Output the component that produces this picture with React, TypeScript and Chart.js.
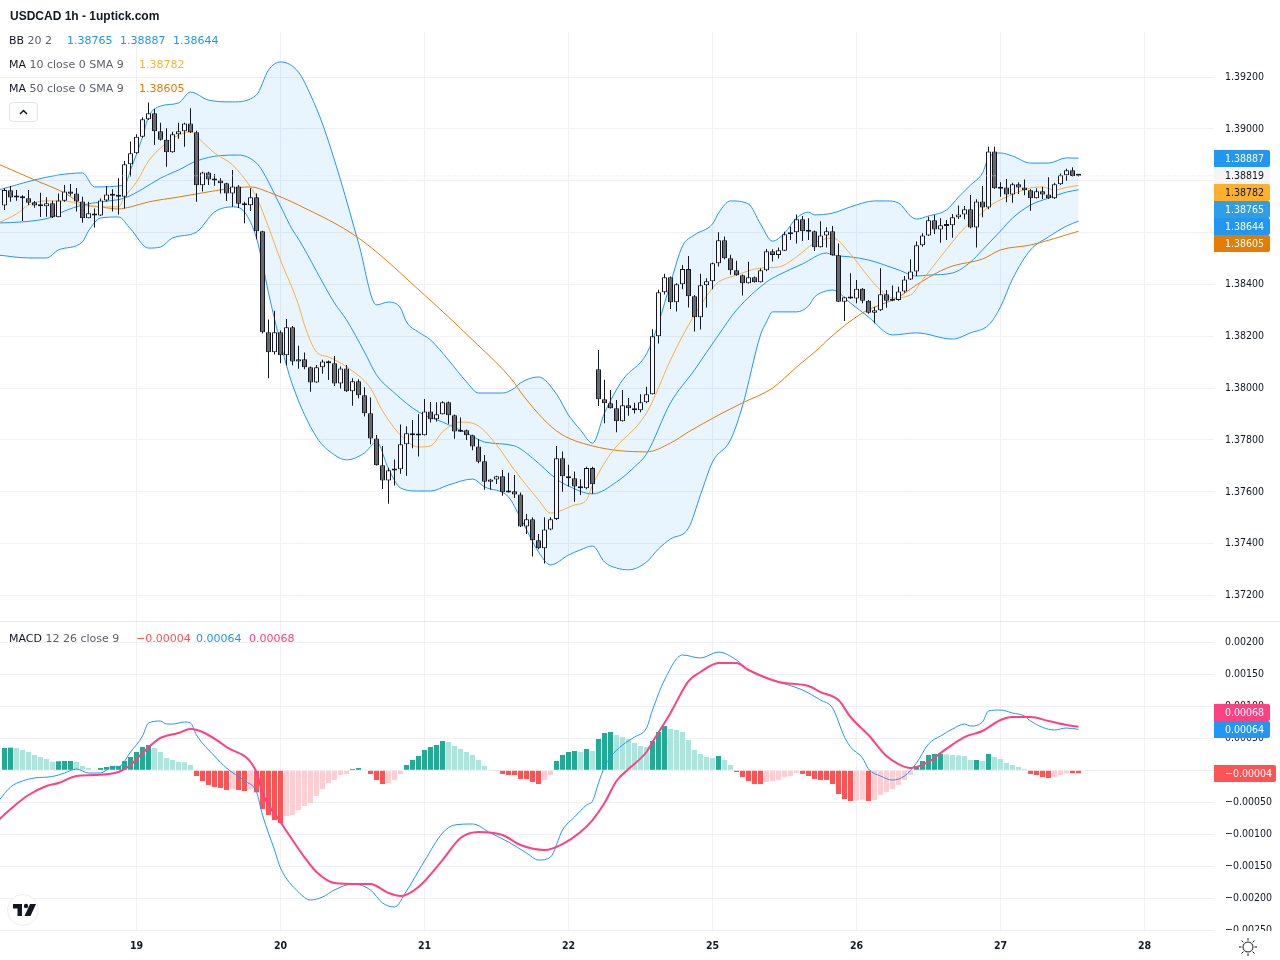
import React, { useEffect, useRef } from "react";
import { Chart, registerables } from "chart.js";

Chart.register(...registerables);

const openValues = [1.38704,1.38763,1.38741,1.38740,1.38732,1.38717,1.38706,1.38701,1.38713,1.38659,1.38723,1.38758,1.38751,1.38720,1.38655,1.38673,1.38666,1.38724,1.38747,1.38744,1.38738,1.38863,1.38906,1.38970,1.39037,1.39060,1.38991,1.38958,1.38910,1.38979,1.38991,1.39021,1.38987,1.38782,1.38832,1.38807,1.38801,1.38790,1.38751,1.38778,1.38713,1.38705,1.38736,1.38605,1.38215,1.38138,1.38215,1.38127,1.38235,1.38103,1.38111,1.38080,1.38022,1.38080,1.38103,1.38096,1.38018,1.38076,1.37988,1.38026,1.37972,1.37903,1.37806,1.37702,1.37644,1.37687,1.37687,1.37783,1.37826,1.37819,1.37818,1.37910,1.37880,1.37899,1.37945,1.37895,1.37837,1.37837,1.37818,1.37775,1.37718,1.37639,1.37647,1.37660,1.37602,1.37602,1.37590,1.37466,1.37494,1.37413,1.37382,1.37455,1.37495,1.37729,1.37660,1.37652,1.37621,1.37614,1.37692,1.38073,1.37957,1.37942,1.37922,1.37872,1.37934,1.37922,1.37915,1.37945,1.37976,1.38200,1.38370,1.38428,1.38331,1.38401,1.38459,1.38354,1.38273,1.38397,1.38412,1.38482,1.38570,1.38501,1.38455,1.38435,1.38404,1.38428,1.38408,1.38455,1.38528,1.38513,1.38530,1.38593,1.38601,1.38651,1.38606,1.38605,1.38543,1.38589,1.38605,1.38512,1.38333,1.38350,1.38346,1.38383,1.38337,1.38291,1.38300,1.38362,1.38342,1.38340,1.38373,1.38419,1.38450,1.38551,1.38589,1.38647,1.38612,1.38628,1.38628,1.38659,1.38670,1.38690,1.38619,1.38720,1.38697,1.38913,1.38773,1.38774,1.38747,1.38786,1.38774,1.38763,1.38732,1.38759,1.38747,1.38732,1.38786,1.38821,1.38840,1.38821];
const closeValues = [1.38764,1.38735,1.38735,1.38732,1.38715,1.38704,1.38701,1.38713,1.38659,1.38724,1.38758,1.38750,1.38720,1.38655,1.38674,1.38666,1.38724,1.38747,1.38742,1.38738,1.38863,1.38906,1.38970,1.39037,1.39060,1.38991,1.38958,1.38910,1.38979,1.38991,1.39021,1.38987,1.38782,1.38832,1.38805,1.38801,1.38790,1.38751,1.38778,1.38711,1.38705,1.38736,1.38605,1.38215,1.38138,1.38215,1.38127,1.38235,1.38103,1.38111,1.38080,1.38022,1.38080,1.38103,1.38096,1.38018,1.38076,1.37988,1.38026,1.37972,1.37903,1.37806,1.37702,1.37644,1.37683,1.37682,1.37783,1.37826,1.37818,1.37817,1.37910,1.37880,1.37899,1.37945,1.37895,1.37833,1.37832,1.37818,1.37775,1.37716,1.37639,1.37647,1.37660,1.37598,1.37597,1.37590,1.37466,1.37494,1.37413,1.37382,1.37455,1.37494,1.37729,1.37660,1.37652,1.37620,1.37614,1.37692,1.37629,1.37957,1.37942,1.37922,1.37872,1.37934,1.37922,1.37915,1.37945,1.37976,1.38200,1.38370,1.38428,1.38331,1.38401,1.38459,1.38354,1.38273,1.38397,1.38412,1.38482,1.38570,1.38501,1.38455,1.38435,1.38404,1.38428,1.38408,1.38455,1.38528,1.38513,1.38532,1.38593,1.38601,1.38651,1.38605,1.38603,1.38543,1.38589,1.38605,1.38512,1.38333,1.38350,1.38346,1.38383,1.38337,1.38291,1.38300,1.38362,1.38337,1.38337,1.38373,1.38419,1.38450,1.38551,1.38589,1.38647,1.38612,1.38628,1.38625,1.38659,1.38670,1.38690,1.38619,1.38720,1.38697,1.38913,1.38771,1.38769,1.38747,1.38786,1.38774,1.38763,1.38732,1.38759,1.38747,1.38732,1.38786,1.38821,1.38840,1.38818,1.38819];
const highValues = [1.38771,1.38780,1.38764,1.38744,1.38764,1.38722,1.38754,1.38736,1.38723,1.38751,1.38783,1.38787,1.38772,1.38738,1.38719,1.38693,1.38731,1.38780,1.38767,1.38809,1.38876,1.38951,1.38979,1.39045,1.39102,1.39077,1.39024,1.39002,1.38989,1.39024,1.39024,1.39079,1.38993,1.38835,1.38835,1.38826,1.38809,1.38792,1.38841,1.38783,1.38719,1.38771,1.38751,1.38607,1.38265,1.38298,1.38222,1.38267,1.38240,1.38163,1.38137,1.38083,1.38089,1.38109,1.38106,1.38124,1.38083,1.38089,1.38038,1.38034,1.38003,1.37964,1.37819,1.37777,1.37693,1.37725,1.37860,1.37853,1.37877,1.37899,1.37958,1.37946,1.37945,1.37949,1.37948,1.37898,1.37887,1.37840,1.37820,1.37804,1.37742,1.37649,1.37662,1.37684,1.37673,1.37665,1.37597,1.37514,1.37502,1.37437,1.37502,1.37502,1.37777,1.37755,1.37704,1.37678,1.37648,1.37697,1.37697,1.38147,1.38032,1.37993,1.37954,1.37993,1.37962,1.37943,1.37976,1.38005,1.38227,1.38379,1.38441,1.38430,1.38404,1.38475,1.38510,1.38359,1.38441,1.38424,1.38484,1.38601,1.38585,1.38514,1.38491,1.38438,1.38487,1.38430,1.38461,1.38537,1.38536,1.38542,1.38603,1.38623,1.38670,1.38664,1.38655,1.38608,1.38644,1.38620,1.38625,1.38558,1.38352,1.38443,1.38417,1.38386,1.38340,1.38314,1.38462,1.38378,1.38396,1.38391,1.38432,1.38497,1.38565,1.38597,1.38661,1.38668,1.38655,1.38648,1.38672,1.38704,1.38702,1.38745,1.38728,1.38780,1.38931,1.38931,1.38794,1.38807,1.38792,1.38794,1.38805,1.38767,1.38771,1.38777,1.38813,1.38792,1.38828,1.38846,1.38852,1.38822];
const lowValues = [1.38687,1.38719,1.38723,1.38645,1.38706,1.38696,1.38660,1.38661,1.38656,1.38659,1.38719,1.38742,1.38681,1.38638,1.38655,1.38619,1.38664,1.38719,1.38681,1.38670,1.38693,1.38816,1.38903,1.38966,1.39034,1.38938,1.38955,1.38854,1.38908,1.38962,1.38931,1.38984,1.38719,1.38758,1.38783,1.38781,1.38751,1.38722,1.38700,1.38695,1.38636,1.38683,1.38574,1.38211,1.38038,1.38130,1.38096,1.38087,1.38088,1.38075,1.38073,1.37986,1.38021,1.38055,1.38031,1.38008,1.37998,1.37985,1.37932,1.37961,1.37890,1.37783,1.37701,1.37611,1.37554,1.37624,1.37670,1.37662,1.37768,1.37736,1.37817,1.37867,1.37871,1.37898,1.37862,1.37805,1.37831,1.37800,1.37760,1.37710,1.37608,1.37608,1.37630,1.37585,1.37597,1.37576,1.37464,1.37437,1.37350,1.37378,1.37323,1.37452,1.37491,1.37600,1.37620,1.37562,1.37588,1.37610,1.37592,1.37931,1.37864,1.37921,1.37830,1.37871,1.37893,1.37902,1.37907,1.37942,1.37975,1.38172,1.38361,1.38305,1.38295,1.38381,1.38311,1.38218,1.38226,1.38311,1.38381,1.38469,1.38497,1.38437,1.38433,1.38357,1.38403,1.38407,1.38407,1.38451,1.38488,1.38500,1.38529,1.38571,1.38558,1.38567,1.38571,1.38529,1.38542,1.38542,1.38511,1.38332,1.38259,1.38345,1.38327,1.38327,1.38287,1.38250,1.38297,1.38310,1.38335,1.38337,1.38368,1.38417,1.38432,1.38545,1.38587,1.38594,1.38561,1.38571,1.38580,1.38652,1.38651,1.38617,1.38542,1.38659,1.38690,1.38768,1.38738,1.38717,1.38715,1.38749,1.38744,1.38684,1.38731,1.38729,1.38729,1.38729,1.38783,1.38800,1.38816,1.38816];

// [bar, value] readings of each indicator line
const bbUpper = [[-1,1.38764],[5,1.38803],[9,1.38822],[13,1.38830],[15,1.38776],[20,1.38783],[21,1.38841],[23,1.38969],[24,1.39046],[26,1.39088],[29,1.39100],[31,1.39142],[34,1.39111],[38,1.39104],[42,1.39131],[44,1.39227],[46,1.39258],[49,1.39219],[51,1.39131],[53,1.39019],[56,1.38803],[59,1.38560],[62,1.38321],[64,1.38332],[66,1.38309],[67,1.38255],[69,1.38216],[71,1.38186],[74,1.38108],[77,1.38024],[79,1.37981],[83,1.37981],[85,1.38000],[86,1.38020],[89,1.38043],[92,1.37977],[94,1.37896],[96,1.37838],[98,1.37788],[100,1.37904],[103,1.38031],[107,1.38132],[109,1.38251],[111,1.38405],[113,1.38548],[115,1.38591],[118,1.38633],[119,1.38675],[121,1.38722],[124,1.38710],[126,1.38633],[128,1.38567],[130,1.38598],[132,1.38656],[134,1.38679],[135,1.38668],[138,1.38675],[141,1.38699],[145,1.38722],[147,1.38722],[149,1.38714],[151,1.38664],[152,1.38652],[154,1.38664],[157,1.38687],[159,1.38737],[161,1.38783],[163,1.38830],[164,1.38888],[166,1.38907],[168,1.38895],[171,1.38868],[174,1.38868],[177,1.38888],[179,1.38887]];
const bbBasis = [[-1,1.38637],[3,1.38641],[8,1.38660],[10,1.38683],[13,1.38706],[16,1.38718],[20,1.38733],[23,1.38768],[26,1.38810],[29,1.38841],[32,1.38876],[36,1.38897],[39,1.38899],[42,1.38868],[43,1.38837],[46,1.38702],[48,1.38610],[49,1.38575],[55,1.38328],[57,1.38263],[60,1.38139],[62,1.38051],[65,1.37981],[69,1.37908],[73,1.37869],[77,1.37827],[80,1.37792],[85,1.37777],[88,1.37730],[92,1.37649],[94,1.37622],[98,1.37592],[102,1.37638],[105,1.37696],[107,1.37746],[111,1.37943],[115,1.38070],[119,1.38205],[122,1.38301],[127,1.38409],[129,1.38436],[133,1.38479],[137,1.38521],[138,1.38513],[141,1.38506],[144,1.38494],[149,1.38456],[152,1.38432],[154,1.38436],[158,1.38444],[161,1.38486],[163,1.38533],[166,1.38606],[168,1.38656],[171,1.38706],[174,1.38733],[177,1.38756],[179,1.38765]];
const bbLower = [[-1,1.38513],[4,1.38502],[7,1.38502],[9,1.38533],[13,1.38564],[14,1.38606],[16,1.38656],[19,1.38660],[21,1.38614],[24,1.38540],[26,1.38544],[28,1.38579],[32,1.38602],[35,1.38679],[38,1.38699],[40,1.38679],[42,1.38579],[43,1.38479],[44,1.38367],[46,1.38174],[48,1.38012],[52,1.37811],[55,1.37742],[57,1.37723],[60,1.37750],[62,1.37792],[64,1.37688],[66,1.37615],[69,1.37603],[71,1.37603],[74,1.37626],[78,1.37649],[80,1.37619],[84,1.37580],[86,1.37499],[89,1.37368],[91,1.37318],[94,1.37356],[96,1.37376],[98,1.37391],[100,1.37329],[102,1.37306],[104,1.37299],[107,1.37329],[109,1.37380],[111,1.37418],[114,1.37460],[116,1.37588],[118,1.37715],[121,1.37800],[123,1.37931],[126,1.38205],[127,1.38255],[128,1.38294],[132,1.38294],[134,1.38317],[135,1.38351],[136,1.38367],[138,1.38378],[141,1.38328],[144,1.38274],[148,1.38205],[152,1.38213],[158,1.38189],[161,1.38213],[164,1.38243],[166,1.38313],[168,1.38421],[171,1.38533],[174,1.38583],[177,1.38625],[179,1.38644]];
const ma50 = [[-1,1.38864],[5,1.38803],[10,1.38753],[13,1.38710],[16,1.38699],[19,1.38691],[21,1.38699],[24,1.38718],[29,1.38737],[33,1.38753],[37,1.38768],[41,1.38776],[44,1.38756],[49,1.38706],[59,1.38579],[70,1.38359],[78,1.38186],[85,1.38020],[86,1.37985],[92,1.37835],[98,1.37777],[107,1.37754],[111,1.37788],[114,1.37831],[119,1.37896],[123,1.37943],[128,1.38000],[132,1.38081],[136,1.38159],[137,1.38182],[143,1.38290],[149,1.38351],[152,1.38398],[156,1.38452],[158,1.38471],[163,1.38498],[166,1.38533],[171,1.38552],[179,1.38605]];
const ma10 = [[-1,1.38637],[2,1.38672],[4,1.38706],[7,1.38722],[10,1.38722],[13,1.38706],[16,1.38699],[19,1.38699],[20,1.38737],[22,1.38795],[24,1.38876],[26,1.38926],[29,1.38976],[31,1.38988],[33,1.38949],[35,1.38907],[38,1.38861],[41,1.38776],[42,1.38737],[44,1.38621],[46,1.38494],[49,1.38321],[50,1.38243],[52,1.38139],[54,1.38120],[58,1.38066],[61,1.38000],[63,1.37912],[66,1.37819],[69,1.37773],[71,1.37777],[73,1.37831],[76,1.37869],[79,1.37854],[82,1.37781],[85,1.37684],[89,1.37569],[91,1.37518],[95,1.37549],[97,1.37569],[98,1.37626],[101,1.37746],[107,1.37904],[111,1.38108],[114,1.38243],[118,1.38386],[119,1.38409],[122,1.38436],[126,1.38463],[129,1.38467],[132,1.38506],[135,1.38560],[138,1.38579],[141,1.38517],[144,1.38429],[146,1.38378],[148,1.38348],[151,1.38359],[153,1.38417],[156,1.38506],[160,1.38618],[162,1.38656],[164,1.38699],[167,1.38737],[171,1.38772],[173,1.38776],[175,1.38764],[177,1.38774],[179,1.38782]];
const macdLine = [[-1,-0.00048],[1,-0.000261],[3,-0.000167],[5,-0.00012],[8,-0.000097],[10,-0.000042],[12,0.00002],[14,-0.000042],[16,-0.000042],[18,0.000052],[19,0.000052],[21,0.000286],[23,0.000536],[24,0.000739],[26,0.00077],[27,0.000723],[28,0.000723],[30,0.000755],[31,0.000739],[32,0.000552],[35,0.000223],[37,0.000036],[40,-0.000167],[42,-0.000339],[43,-0.000698],[45,-0.001245],[46,-0.001527],[49,-0.001902],[51,-0.002027],[53,-0.00198],[55,-0.00187],[58,-0.001777],[61,-0.00187],[63,-0.002073],[65,-0.002136],[67,-0.001886],[70,-0.001417],[73,-0.00098],[75,-0.000855],[78,-0.000839],[81,-0.00098],[84,-0.00112],[87,-0.001292],[89,-0.001402],[91,-0.001355],[93,-0.000933],[95,-0.00073],[97,-0.000542],[98,-0.00048],[99,-0.000198],[100,0.000052],[101,0.000208],[103,0.000395],[105,0.00052],[107,0.000661],[108,0.000942],[110,0.001411],[113,0.001802],[116,0.001755],[119,0.001848],[122,0.001723],[124,0.001567],[128,0.001411],[133,0.001255],[136,0.001098],[138,0.000973],[140,0.00052],[141,0.000364],[143,0.000192],[144,0.00002],[146,-0.000089],[148,-0.000152],[150,-0.000089],[152,0.000114],[154,0.000411],[156,0.000536],[158,0.000645],[160,0.000723],[161,0.000692],[163,0.000755],[164,0.000927],[166,0.000942],[168,0.000895],[170,0.000848],[171,0.00077],[175,0.00063],[177,0.000661],[179,0.00064]];
const signalLine = [[-1,-0.000777],[2,-0.000527],[4,-0.000386],[7,-0.000245],[9,-0.000198],[12,-0.000089],[15,-0.000073],[19,-0.000027],[21,0.000083],[23,0.00027],[26,0.000505],[29,0.000583],[31,0.000645],[33,0.000598],[37,0.000364],[42,-0.000027],[43,-0.000355],[46,-0.000808],[48,-0.00109],[50,-0.00136],[52,-0.001589],[55,-0.001761],[59,-0.001777],[61,-0.001777],[64,-0.001917],[66,-0.001964],[69,-0.001823],[73,-0.001402],[76,-0.001058],[79,-0.000964],[83,-0.001011],[86,-0.001167],[90,-0.001245],[93,-0.001152],[96,-0.000964],[98,-0.000777],[100,-0.000511],[102,-0.000167],[104,0.00002],[107,0.000286],[108,0.000442],[110,0.000739],[111,0.000895],[114,0.001395],[116,0.001536],[119,0.001677],[122,0.001677],[124,0.001567],[129,0.00138],[134,0.001317],[136,0.001223],[139,0.001098],[141,0.000833],[144,0.000552],[147,0.000223],[149,0.000098],[151,0.000036],[154,0.00013],[156,0.00027],[160,0.00052],[163,0.000614],[166,0.000786],[168,0.000833],[171,0.000833],[174,0.00077],[177,0.000708],[179,0.00068]];
const macdHistogram = [0.000349,0.000354,0.000349,0.000318,0.000286,0.00024,0.000208,0.000177,0.000135,0.000141,0.000146,0.000146,0.00013,0.000068,0.000036,0.000005,0.000036,0.000052,0.000068,0.000068,0.000146,0.000208,0.000286,0.000365,0.000396,0.000349,0.000286,0.000193,0.000161,0.00013,0.000125,0.000083,-0.000089,-0.000167,-0.000229,-0.00026,-0.000276,-0.000307,-0.000292,-0.000307,-0.000323,-0.000292,-0.000344,-0.000604,-0.000698,-0.000777,-0.000823,-0.000713,-0.000698,-0.00062,-0.000557,-0.00051,-0.000401,-0.000292,-0.000198,-0.000151,-0.000073,-0.000057,0.000021,0.000036,0.000005,-0.000057,-0.000151,-0.000214,-0.000198,-0.000151,-0.000057,0.000083,0.000161,0.000224,0.000318,0.000365,0.000396,0.000458,0.000443,0.00038,0.000333,0.000286,0.00024,0.000161,0.000068,0.000005,-0.00001,-0.000057,-0.000073,-0.000073,-0.000135,-0.000135,-0.000182,-0.000214,-0.000151,-0.000073,0.000146,0.00024,0.000286,0.000302,0.000286,0.000333,0.000302,0.00049,0.000583,0.000599,0.000552,0.000521,0.00049,0.000427,0.00038,0.000365,0.000458,0.000599,0.000693,0.000646,0.00063,0.000599,0.000474,0.000318,0.000255,0.000208,0.000193,0.000224,0.000161,0.000083,-0.000026,-0.000104,-0.000167,-0.000214,-0.000214,-0.000182,-0.000167,-0.000151,-0.000104,-0.000089,-0.000042,-0.000057,-0.000089,-0.000135,-0.000151,-0.000151,-0.000214,-0.00037,-0.000448,-0.000479,-0.000469,-0.000458,-0.000479,-0.000464,-0.000385,-0.000339,-0.000292,-0.000229,-0.000151,-0.000073,0.000068,0.000146,0.00024,0.000255,0.00026,0.00025,0.00024,0.000234,0.000224,0.000161,0.000161,0.000146,0.000255,0.000208,0.000177,0.000115,0.000083,0.000052,0.000021,-0.000057,-0.000073,-0.000104,-0.00012,-0.000104,-0.000073,-0.000045,-0.000045,-0.000045];

const lastPrice = 1.38819;
const priceTicks = [1.392,1.39,1.388,1.386,1.384,1.382,1.38,1.378,1.376,1.374,1.372];
const macdTicks = [0.002,0.0015,0.001,0.0005,0,-0.0005,-0.001,-0.0015,-0.002,-0.0025];
const dayBars = [22,46,70,94,118,142,166,190];
const dayLabels = ["19","20","21","22","25","26","27","28"];
const priceTagLabels = ["1.38887","1.38819","1.38782","1.38765","1.38644","1.38605"];
const macdTagLabels = ["0.00068","0.00064","\u22120.00004"];

const BLUE = "#2196F3";
const MA10_COLOR = "#F7B23B";
const MA50_COLOR = "#E37D05";
const PINK = "#FF4081";
const RED = "#FF5252";
const TEAL = "#22AB94";
const TEAL_LIGHT = "#ACE5DC";
const RED_LIGHT = "#FFCDD2";
const INK = "#131722";
const GRID = "#F1F1F3";
const AXIS_FONT = "'DejaVu Sans Condensed', 'DejaVu Sans'";
const AXIS_SIZE = 10.5;
const AXIS_WIDTH = 66;
const xMin = -0.75;
const xMax = 201.583;

const toPoints = (pairs: number[][]) => pairs.map(([x, y]) => ({ x, y }));

const line = (label: string, pairs: number[][], color: string, width: number, order: number, extra: object = {}) => ({
  type: "line" as const,
  label,
  data: toPoints(pairs),
  borderColor: color,
  borderWidth: width,
  pointRadius: 0,
  cubicInterpolationMode: "monotone" as const,
  fill: false,
  order,
  ...extra,
});

const histColor = (v: number, i: number) => {
  const prev = i > 0 ? macdHistogram[i - 1] : v;
  if (v >= 0) return v >= prev ? TEAL : TEAL_LIGHT;
  return v <= prev ? RED : RED_LIGHT;
};

const clearPadding = (s: any) => {
  s.paddingTop = 0;
  s.paddingBottom = 0;
  s.paddingLeft = 0;
  s.paddingRight = 0;
};

const xScale = (showLabels: boolean, height: number) => ({
  type: "linear" as const,
  min: xMin,
  max: xMax,
  offset: false,
  afterBuildTicks: (s: any) => { s.ticks = dayBars.map((value) => ({ value })); },
  afterFit: (s: any) => { s.height = height; clearPadding(s); },
  grid: { color: GRID, drawTicks: false, lineWidth: 1, offset: false },
  border: { display: false },
  ticks: {
    display: showLabels,
    autoSkip: false,
    maxRotation: 0,
    padding: 9,
    color: INK,
    font: { family: AXIS_FONT, size: AXIS_SIZE, weight: "bold" as const },
    callback: (v: any) => dayLabels[dayBars.indexOf(Number(v))] ?? "",
  },
});

const yScale = (min: number, max: number, ticks: number[], fmt: (v: number) => string) => ({
  type: "linear" as const,
  position: "right" as const,
  min,
  max,
  afterBuildTicks: (s: any) => { s.ticks = ticks.map((value) => ({ value })); },
  afterFit: (s: any) => { s.width = AXIS_WIDTH; clearPadding(s); },
  grid: { color: GRID, drawTicks: false, lineWidth: 1 },
  border: { display: false },
  ticks: {
    padding: 11,
    color: INK,
    autoSkip: false,
    font: { family: AXIS_FONT, size: AXIS_SIZE },
    callback: (v: any) => fmt(Number(v)),
  },
});

const drawTag = (ctx: CanvasRenderingContext2D, text: string, top: number, w: number, bg: string, fg: string) => {
  ctx.save();
  ctx.fillStyle = bg;
  ctx.beginPath();
  ctx.roundRect(1214, top, w, 17, [0, 2, 2, 0]);
  ctx.fill();
  ctx.fillStyle = fg;
  ctx.font = `${AXIS_SIZE}px ${AXIS_FONT}`;
  ctx.textAlign = "left";
  ctx.textBaseline = "middle";
  ctx.fillText(text, 1225, top + 9);
  ctx.restore();
};

const priceTagStyles = [
  [BLUE, "#fff"], ["#F5F5F5", INK], ["#FBB12E", INK], ["#2E9FE6", "#fff"], [BLUE, "#fff"], [MA50_COLOR, "#fff"],
];

const priceTagsPlugin = {
  id: "priceTags",
  afterDraw(chart: any) {
    priceTagLabels.forEach((t, k) => {
      drawTag(chart.ctx, t, 150 + k * 17, 56, priceTagStyles[k][0], priceTagStyles[k][1]);
    });
  },
};

const macdTagsPlugin = {
  id: "macdTags",
  afterDraw(chart: any) {
    const ctx = chart.ctx;
    ctx.save();
    ctx.fillStyle = "#fff";
    ctx.fillRect(1214, 310, 66, 29);
    ctx.restore();
    drawTag(ctx, macdTagLabels[0], 83, 56, PINK, "#fff");
    drawTag(ctx, macdTagLabels[1], 100, 56, BLUE, "#fff");
    drawTag(ctx, macdTagLabels[2], 144, 62, RED, "#fff");
  },
};

const base = {
  responsive: false,
  animation: false as const,
  devicePixelRatio: 1,
  events: [] as any[],
  plugins: { legend: { display: false }, tooltip: { enabled: false }, title: { display: false }, filler: { propagate: false } },
};

const barCommon = {
  grouped: false,
  barPercentage: 1,
  categoryPercentage: 1,
  inflateAmount: 0,
};

const legendFont = "'DejaVu Sans', sans-serif";
const textRow = (top: number): React.CSSProperties => ({
  position: "absolute", left: 9, top, height: 16, lineHeight: "16px", fontFamily: legendFont, fontSize: 11, whiteSpace: "pre", color: INK,
});
const valueAt = (left: number, color: string): React.CSSProperties => ({
  position: "absolute", left, top: 0, color, whiteSpace: "pre",
});
const GRAY = "#5D606B";

export default function App() {
  const mainRef = useRef<HTMLCanvasElement>(null);
  const macdRef = useRef<HTMLCanvasElement>(null);

  useEffect(() => {
    const bars = openValues.map((_, i) => i);
    const main = new Chart(mainRef.current!, {
      type: "bar",
      data: {
        datasets: [
          line("BB upper", bbUpper, BLUE, 1, 10, { fill: { target: 1 }, backgroundColor: "rgba(33,150,243,0.1)" }),
          line("BB lower", bbLower, BLUE, 1, 9),
          line("BB basis", bbBasis, BLUE, 1, 8),
          line("MA 50", ma50, MA50_COLOR, 1, 7),
          line("MA 10", ma10, MA10_COLOR, 1, 6),
          {
            type: "bar", label: "wick", order: 2, ...barCommon, barThickness: 1,
            data: bars.map((i) => ({ x: i, y: [lowValues[i], highValues[i]] })),
            backgroundColor: INK, borderWidth: 0,
          },
          {
            type: "bar", label: "body", order: 1, ...barCommon, barThickness: 5, minBarLength: 2,
            data: bars.map((i) => ({ x: i, y: [openValues[i], closeValues[i]] })),
            backgroundColor: bars.map((i) => (closeValues[i] >= openValues[i] && closeValues[i] !== openValues[i] ? "#F7F7F7" : "#6A6A6A")),
            borderColor: INK, borderWidth: 1, borderSkipped: false,
          },
          line("last", [[-1, lastPrice], [202, lastPrice]], "#E2E2E2", 1, 0, { borderDash: [1, 2], cubicInterpolationMode: "default" }),
        ] as any,
      },
      options: {
        ...base,
        layout: { autoPadding: false, padding: { top: 32, left: 0, right: 0, bottom: 0 } },
        scales: {
          x: xScale(false, 0),
          y: yScale(1.371016, 1.393736, priceTicks, (v) => v.toFixed(5)),
        },
      } as any,
      plugins: [priceTagsPlugin],
    });

    const macd = new Chart(macdRef.current!, {
      type: "bar",
      data: {
        datasets: [
          line("Signal", signalLine, PINK, 2, 0),
          line("MACD", macdLine, BLUE, 1, 1),
          {
            type: "bar", label: "Histogram", order: 2, ...barCommon, barThickness: 5,
            data: macdHistogram.map((y, i) => ({ x: i, y })),
            backgroundColor: macdHistogram.map(histColor), borderWidth: 0,
          },
        ] as any,
      },
      options: {
        ...base,
        layout: { autoPadding: false, padding: 0 },
        scales: {
          x: xScale(true, 29),
          y: yScale(-0.002511, 0.002333, macdTicks, (v) => (v < 0 ? "\u2212" : "") + Math.abs(v).toFixed(5)),
        },
      } as any,
      plugins: [macdTagsPlugin],
    });

    return () => {
      main.destroy();
      macd.destroy();
    };
  }, []);

  return (
    <div style={{ position: "absolute", left: 0, top: 0, width: 1280, height: 960, background: "#fff", overflow: "hidden" }}>
      <canvas ref={mainRef} width={1280} height={621} style={{ position: "absolute", left: 0, top: 0, display: "block" }} />
      <canvas ref={macdRef} width={1280} height={339} style={{ position: "absolute", left: 0, top: 621, display: "block" }} />
      <div style={{ position: "absolute", left: 0, top: 621, width: 1280, height: 1, background: "#E6E7EB" }} />

      <div style={{ position: "absolute", left: 10, top: 8, fontFamily: "'Liberation Sans', sans-serif", fontWeight: 700, fontSize: 12, lineHeight: "16px", color: INK, whiteSpace: "pre" }}>USDCAD 1h - 1uptick.com</div>

      <div style={textRow(33)}>BB <span style={{ color: GRAY }}>20 2</span>
        <span style={valueAt(58, BLUE)}>1.38765</span>
        <span style={valueAt(111, BLUE)}>1.38887</span>
        <span style={valueAt(164, BLUE)}>1.38644</span>
      </div>
      <div style={textRow(57)}>MA <span style={{ color: GRAY }}>10 close 0 SMA 9</span>
        <span style={valueAt(130, MA10_COLOR)}>1.38782</span>
      </div>
      <div style={textRow(81)}>MA <span style={{ color: GRAY }}>50 close 0 SMA 9</span>
        <span style={valueAt(130, MA50_COLOR)}>1.38605</span>
      </div>
      <div style={{ position: "absolute", left: 9, top: 102, width: 29, height: 20, boxSizing: "border-box", border: "1px solid #E0E3EB", borderRadius: 4, background: "#fff" }}>
        <svg width="27" height="18" style={{ display: "block" }}>
          <path d="M10 11 L13.5 7.5 L17 11" fill="none" stroke={INK} strokeWidth="1.5" />
        </svg>
      </div>

      <div style={textRow(631)}>MACD <span style={{ color: GRAY }}>12 26 close 9</span>
        <span style={valueAt(127, RED)}>{"\u22120.00004"}</span>
        <span style={valueAt(187, BLUE)}>0.00064</span>
        <span style={valueAt(240, PINK)}>0.00068</span>
      </div>

      <svg width="36" height="36" style={{ position: "absolute", left: 5, top: 892 }}>
        <circle cx="18" cy="18" r="15.5" fill="#fff" stroke="#EDEDEF" strokeWidth="1" />
        <path d="M8 12 H17 V24 H12.5 V16.5 H8 Z" fill={INK} />
        <circle cx="21" cy="14" r="2.2" fill={INK} />
        <path d="M25 12 H31 L25.5 24 H19.5 Z" fill={INK} />
      </svg>

      <svg width="20" height="20" style={{ position: "absolute", left: 1238, top: 937 }}>
        <circle cx="10" cy="10" r="5" fill="none" stroke={INK} strokeWidth="1" />
        <path d="M10 1 V3.5 M10 16.5 V19 M1 10 H3.5 M16.5 10 H19 M3.6 3.6 L5.4 5.4 M14.6 14.6 L16.4 16.4 M3.6 16.4 L5.4 14.6 M14.6 5.4 L16.4 3.6" stroke={INK} strokeWidth="1" />
      </svg>
    </div>
  );
}
